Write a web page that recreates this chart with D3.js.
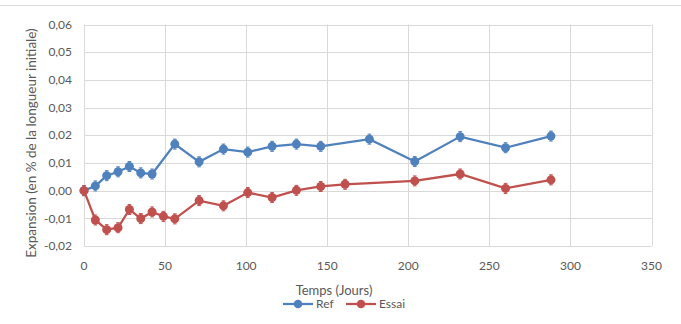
<!DOCTYPE html>
<html><head><meta charset="utf-8">
<script src="https://cdn.jsdelivr.net/npm/d3@7/dist/d3.min.js"></script>
<style>body{margin:0;background:#fff;}svg{display:block;font-family:Lato,"Open Sans",sans-serif;}</style>
</head><body>
<svg id="c" width="681" height="324"></svg>
<script>
const refDays = [0,7,14,21,28,35,42,56,71,86,101,116,131,146,176,204,232,260,288];
const refValues = [0,0.0017,0.0054,0.0068,0.0087,0.0064,0.0060,0.0168,0.0104,0.0150,0.0139,0.0160,0.0168,0.0160,0.0186,0.0105,0.0195,0.0155,0.0197];
const essaiDays = [0,7,14,21,28,35,42,49,56,71,86,101,116,131,146,161,204,232,260,288];
const essaiValues = [0,-0.0106,-0.0141,-0.0134,-0.0068,-0.0101,-0.0077,-0.0093,-0.0102,-0.0036,-0.0055,-0.0007,-0.0025,0.0001,0.0015,0.0023,0.0035,0.0060,0.0008,0.0039];
const xTicks = [0,50,100,150,200,250,300,350];
const yTicks = [-0.02,-0.01,0,0.01,0.02,0.03,0.04,0.05,0.06];
const seriesNames = ["Ref","Essai"];
const colors = ["#4f81bd","#c0504d"];
const xTitle = "Temps (Jours)";
const yTitle = "Expansion (en % de la longueur initiale)";

const svg = d3.select("#c");
const x = d3.scaleLinear().domain([0,350]).range([84,651.5]);
const y = d3.scaleLinear().domain([-0.02,0.06]).range([246,24.5]);
const fmt = v => d3.format(".2f")(v).replace(".",",").replace("−","-");

svg.append("line").attr("x1",0).attr("x2",681).attr("y1",5.5).attr("y2",5.5).attr("stroke","#d9d9d9");

const g = svg.append("g");
g.selectAll(".hg").data(yTicks).join("line")
  .attr("x1",x(0)).attr("x2",x(350)).attr("y1",d=>Math.round(y(d))+0.5).attr("y2",d=>Math.round(y(d))+0.5)
  .attr("stroke","#d9d9d9").attr("stroke-width",1);
g.selectAll(".vg").data(xTicks).join("line")
  .attr("y1",y(-0.02)).attr("y2",y(0.06)).attr("x1",d=>Math.round(x(d))+0.5).attr("x2",d=>Math.round(x(d))+0.5)
  .attr("stroke","#d9d9d9").attr("stroke-width",1);

g.selectAll(".yt").data(yTicks).join("text")
  .attr("x",72).attr("y",d=>y(d)).attr("dy","0.35em").attr("text-anchor","end")
  .attr("font-size",12).attr("fill","#595959").text(fmt);
g.selectAll(".xt").data(xTicks).join("text")
  .attr("x",d=>x(d)).attr("y",266).attr("dy","0.35em").attr("text-anchor","middle")
  .attr("font-size",12).attr("fill","#595959").text(d=>d);

svg.append("text").attr("transform","translate(36,143) rotate(-90)").attr("text-anchor","middle")
  .attr("font-size",13.5).attr("fill","#595959").text(yTitle);
svg.append("text").attr("x",334).attr("y",290).attr("dy","0.35em").attr("text-anchor","middle")
  .attr("font-size",13).attr("fill","#595959").text(xTitle);

const series = [
  {name:seriesNames[0], days:refDays, vals:refValues, color:colors[0]},
  {name:seriesNames[1], days:essaiDays, vals:essaiValues, color:colors[1]}
];
const line = d3.line().x(d=>x(d[0])).y(d=>y(d[1]));
series.forEach(s=>{
  const pts = s.days.map((d,i)=>[d,s.vals[i]]);
  svg.append("path").attr("d",line(pts)).attr("fill","none").attr("stroke",s.color).attr("stroke-width",2.25);
  const m = svg.append("g");
  pts.forEach(p=>{
    const cx=x(p[0]), cy=y(p[1]);
    m.append("line").attr("x1",cx).attr("x2",cx).attr("y1",cy-5).attr("y2",cy+5).attr("stroke",s.color).attr("stroke-width",1);
    m.append("line").attr("x1",cx-1.8).attr("x2",cx+1.8).attr("y1",cy-5).attr("y2",cy-5).attr("stroke",s.color).attr("stroke-width",1);
    m.append("line").attr("x1",cx-1.8).attr("x2",cx+1.8).attr("y1",cy+5).attr("y2",cy+5).attr("stroke",s.color).attr("stroke-width",1);
    m.append("circle").attr("cx",cx).attr("cy",cy).attr("r",4.5).attr("fill",s.color);
  });
});

// legend
const leg = svg.append("g");
const lx = [283, 346];
series.forEach((s,i)=>{
  const x0 = lx[i], ly = 304;
  leg.append("line").attr("x1",x0).attr("x2",x0+30).attr("y1",ly).attr("y2",ly).attr("stroke",s.color).attr("stroke-width",2.25);
  leg.append("circle").attr("cx",x0+15).attr("cy",ly).attr("r",4.3).attr("fill",s.color);
  leg.append("text").attr("x",x0+33).attr("y",ly).attr("dy","0.35em").attr("font-size",12).attr("fill","#595959").text(s.name);
});
</script>
</body></html>
